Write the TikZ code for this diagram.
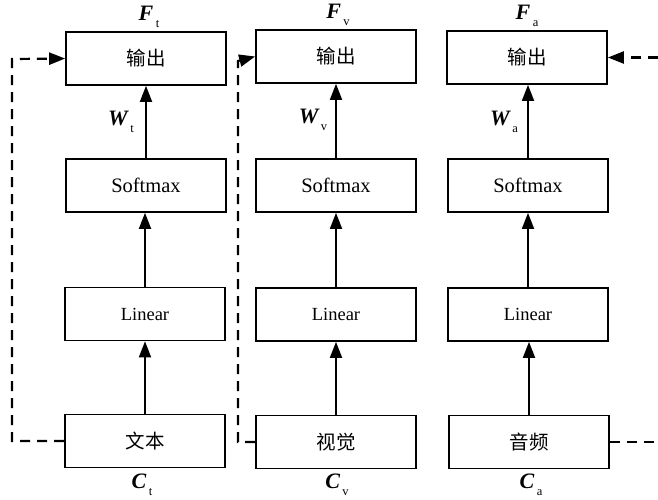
\documentclass[tikz,border=0pt]{standalone}
\usepackage{fontspec}
\setmainfont{Liberation Serif}
\newfontfamily\cjk{Noto Sans CJK SC}
\usetikzlibrary{arrows.meta}
\newcommand{\vlab}[2]{{\fontsize{22}{22}\selectfont\bfseries\itshape #1}\kern2.5pt\raisebox{-7pt}{\fontsize{12.5}{12.5}\selectfont #2}}
\begin{document}
\begin{tikzpicture}[x=1pt,y=-1pt,
  box/.style={draw, line width=1.7pt, minimum width=160pt, minimum height=53pt, inner sep=0pt},
  zh/.style={font=\cjk\fontsize{19.5}{19.5}\selectfont},
  sm/.style={font=\fontsize{20.5}{20.5}\selectfont},
  ln/.style={font=\fontsize{18.5}{18.5}\selectfont},
  arr/.style={-{Triangle[length=16pt,width=12pt]}, line width=1.8pt},
  dline/.style={line width=2.2pt, dash pattern=on 10pt off 7pt},
  lab/.style={inner sep=0pt}]
\useasboundingbox (0,0) rectangle (658,499);
% column 1
\node[box,zh] (o1) at (146,58.5) {输出};
\node[box,sm] (s1) at (146,185.5) {Softmax};
\node[box,ln] (l1) at (145,314) {Linear};
\node[box,zh] (t1) at (145,441) {文本};
% column 2
\node[box,zh] (o2) at (336,56.5) {输出};
\node[box,sm] (s2) at (336,185.5) {Softmax};
\node[box,ln] (l2) at (336,314.5) {Linear};
\node[box,zh] (t2) at (336,442) {视觉};
% column 3
\node[box,zh] (o3) at (527,57.5) {输出};
\node[box,sm] (s3) at (528,185.5) {Softmax};
\node[box,ln] (l3) at (528,314.5) {Linear};
\node[box,zh] (t3) at (529,442) {音频};
% vertical arrows
\foreach \c in {1,2,3}{
  \draw[arr] (t\c.north) -- (t\c.north |- l\c.south);
  \draw[arr] (l\c.north) -- (l\c.north |- s\c.south);
  \draw[arr] (s\c.north) -- (s\c.north |- o\c.south);
}
% labels
\node[lab] (ft) at (149,17) {\vlab{F}{t}};
\node[lab] (fv) at (338,15) {\vlab{F}{v}};
\node[lab] (fa) at (527,16) {\vlab{F}{a}};
\node[lab] (wt) at (121,122) {\vlab{W}{t}};
\node[lab] (wv) at (313,120) {\vlab{W}{v}};
\node[lab] (wa) at (504,122) {\vlab{W}{a}};
\node[lab] (ct) at (142,485) {\vlab{C}{t}};
\node[lab] (cv) at (337,485) {\vlab{C}{v}};
\node[lab] (ca) at (531,485) {\vlab{C}{a}};
% dashed feedback lines
\coordinate (a1) at (12,441);
\coordinate (a2) at (12,59);
\draw[arr,dline] (t1.west) -- (a1) -- (a2) -- (o1.west);
\coordinate (b1) at (238,442);
\coordinate (b2) at (238,61);
\draw[arr,dline] (t2.west) -- (b1) -- (b2) -- (o2.west);
\coordinate (c1) at (658,442);
\coordinate (c2) at (658,57.5);
\draw[dline] (t3.east) -- (c1);
\draw[arr,dline] (c2) -- (o3.east);
\end{tikzpicture}
\end{document}
